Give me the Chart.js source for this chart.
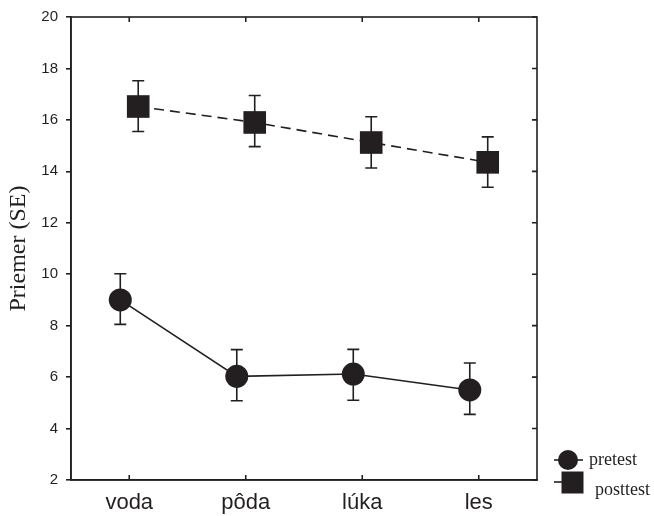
<!DOCTYPE html>
<html>
<head>
<meta charset="utf-8">
<script src="https://cdn.jsdelivr.net/npm/chart.js@4/dist/chart.umd.min.js"></script>
<style>
  html, body { margin: 0; padding: 0; background: #ffffff; }
  #wrap { width: 654px; height: 516px; }
</style>
</head>
<body>
<div id="wrap"><canvas id="c" width="654" height="516"></canvas></div>
<script>
// ---- data ----
const categories = ['voda', 'pôda', 'lúka', 'les'];
const seriesNames = ['pretest', 'posttest'];
const pretest      = [9.00, 6.03, 6.12, 5.50];
const pretestLow   = [8.05, 5.08, 5.10, 4.55];
const pretestHigh  = [10.02, 7.07, 7.08, 6.55];
const posttest     = [16.52, 15.90, 15.12, 14.35];
const posttestLow  = [15.55, 14.96, 14.13, 13.38];
const posttestHigh = [17.52, 16.95, 16.12, 15.34];
const yTicks = [2, 4, 6, 8, 10, 12, 14, 16, 18, 20];
const yTitle = 'Priemer (SE)';

// ---- style ----
const INK = '#231f20';
const DODGE = 0.077; // horizontal offset of the two series within a category

function toPoints(vals, shift) {
  return vals.map((v, i) => ({ x: i + shift, y: v }));
}

const errorBars = {
  id: 'errorBars',
  beforeDatasetsDraw(chart) {
    const { ctx, scales: { x, y } } = chart;
    const sets = [
      { vals: pretest, lo: pretestLow, hi: pretestHigh, shift: -DODGE },
      { vals: posttest, lo: posttestLow, hi: posttestHigh, shift: DODGE }
    ];
    ctx.save();
    ctx.strokeStyle = INK;
    ctx.lineWidth = 1.6;
    const cap = 6;
    sets.forEach(s => {
      s.vals.forEach((v, i) => {
        const px = x.getPixelForValue(i + s.shift);
        const pLo = y.getPixelForValue(s.lo[i]);
        const pHi = y.getPixelForValue(s.hi[i]);
        ctx.beginPath();
        ctx.moveTo(px, pLo); ctx.lineTo(px, pHi);
        ctx.moveTo(px - cap, pLo); ctx.lineTo(px + cap, pLo);
        ctx.moveTo(px - cap, pHi); ctx.lineTo(px + cap, pHi);
        ctx.stroke();
      });
    });
    ctx.restore();
  }
};

const frame = {
  id: 'frame',
  afterDraw(chart) {
    const { ctx, chartArea: a, scales: { x, y } } = chart;
    ctx.save();
    ctx.strokeStyle = INK;
    ctx.lineWidth = 1.6;
    ctx.strokeRect(a.left, a.top, a.right - a.left, a.bottom - a.top);
    const t = 5;
    ctx.beginPath();
    categories.forEach((c, i) => {
      const px = x.getPixelForValue(i);
      ctx.moveTo(px, a.top); ctx.lineTo(px, a.top + t);
      ctx.moveTo(px, a.bottom); ctx.lineTo(px, a.bottom - t);
    });
    yTicks.forEach(v => {
      const py = y.getPixelForValue(v);
      ctx.moveTo(a.right, py); ctx.lineTo(a.right - t, py);
    });
    ctx.stroke();
    ctx.restore();
  }
};

const legendBox = {
  id: 'legendBox',
  afterDraw(chart) {
    const { ctx } = chart;
    ctx.save();
    ctx.fillStyle = INK;
    ctx.strokeStyle = INK;
    ctx.lineWidth = 1.6;
    // pretest: line + circle
    ctx.beginPath();
    ctx.moveTo(554, 460); ctx.lineTo(583, 460); ctx.stroke();
    ctx.beginPath();
    ctx.arc(568, 460, 10, 0, Math.PI * 2); ctx.fill();
    // posttest: stub + square
    ctx.beginPath();
    ctx.moveTo(554, 482); ctx.lineTo(562, 482); ctx.stroke();
    ctx.fillRect(561.5, 471.5, 22, 22);
    ctx.font = '18px "Liberation Serif", "Times New Roman", serif';
    ctx.textBaseline = 'alphabetic';
    ctx.textAlign = 'left';
    ctx.fillText(chart.data.datasets[0].label, 589, 465);
    ctx.fillText(chart.data.datasets[1].label, 595, 495);
    ctx.restore();
  }
};

new Chart(document.getElementById('c'), {
  type: 'line',
  data: {
    datasets: [
      {
        label: seriesNames[0],
        data: toPoints(pretest, -DODGE),
        borderColor: INK,
        backgroundColor: INK,
        borderWidth: 1.6,
        pointStyle: 'circle',
        pointRadius: 11.5,
        pointBorderWidth: 0,
        pointHoverRadius: 11.5,
        tension: 0
      },
      {
        label: seriesNames[1],
        data: toPoints(posttest, DODGE),
        borderColor: INK,
        backgroundColor: INK,
        borderWidth: 1.6,
        borderDash: [10, 6],
        pointStyle: 'rect',
        pointRadius: 16,
        pointBorderWidth: 0,
        pointHoverRadius: 16,
        tension: 0
      }
    ]
  },
  options: {
    responsive: false,
    animation: false,
    events: [],
    layout: { padding: { top: 16, right: 117, bottom: 0, left: 0 } },
    plugins: {
      legend: { display: false },
      tooltip: { enabled: false }
    },
    scales: {
      x: {
        type: 'linear',
        position: 'bottom',
        min: -0.5,
        max: 3.5,
        afterBuildTicks(scale) {
          scale.ticks = categories.map((c, i) => ({ value: i }));
        },
        afterFit(scale) { scale.height = 36; },
        grid: { display: false },
        border: { display: true, color: INK, width: 1.6 },
        ticks: {
          color: INK,
          padding: 2,
          font: { family: '"Liberation Sans", Arial, sans-serif', size: 22 },
          callback: (v) => categories[v]
        }
      },
      y: {
        min: 2,
        max: 20,
        afterBuildTicks(scale) {
          scale.ticks = yTicks.map(v => ({ value: v }));
        },
        afterFit(scale) { scale.width = 71; },
        grid: {
          drawOnChartArea: false,
          drawTicks: true,
          tickLength: 5,
          color: INK,
          lineWidth: 1.6
        },
        border: { display: true, color: INK, width: 1.6 },
        ticks: {
          color: INK,
          padding: 8,
          font: { family: '"Liberation Sans", Arial, sans-serif', size: 15 }
        },
        title: {
          display: true,
          text: yTitle,
          color: INK,
          padding: { top: 4, bottom: 0 },
          font: { family: '"Liberation Serif", "Times New Roman", serif', size: 24 }
        }
      }
    }
  },
  plugins: [errorBars, frame, legendBox]
});
</script>
</body>
</html>
